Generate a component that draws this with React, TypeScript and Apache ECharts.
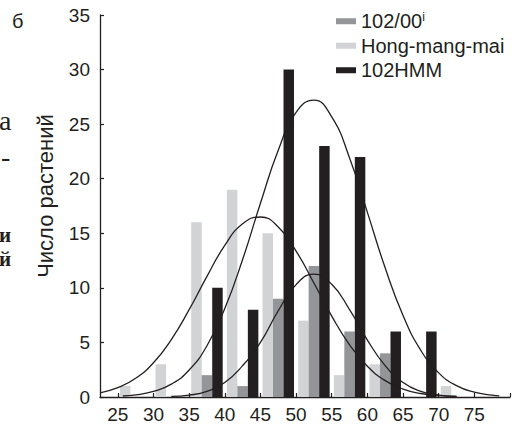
import React, { useEffect, useRef } from 'react';
import * as echarts from 'echarts';

// Class (bin) centres, bins 25–30, 30–35, … 70–75
const binCenters = [27.5, 32.5, 37.5, 42.5, 47.5, 52.5, 57.5, 62.5, 67.5, 72.5];
const hongMangMai = [1, 3, 16, 19, 15, 7, 2, 3, 0, 1];
const line10200 = [0, 0, 2, 1, 9, 12, 6, 4, 0, 0];
const line102HMM = [0, 0, 10, 8, 30, 23, 22, 6, 6, 0];

// Fitted curves
const hongCurveX = [22.5, 25, 27.5, 30, 32.5, 35, 37.5, 40, 42.5, 45, 47.5, 50, 52.5, 55, 57.5, 60, 62.5, 65, 67.5, 70, 72.5];
const hongCurveY = [0.38, 0.85, 1.71, 3.14, 5.26, 8.0, 11.05, 13.89, 15.87, 16.49, 15.58, 13.37, 10.44, 7.41, 4.78, 2.81, 1.5, 0.73, 0.32, 0.13, 0.05];
const c10200CurveX = [32.5, 35, 37.5, 40, 42.5, 45, 47.5, 50, 52.5, 55, 57.5, 60, 62.5, 65, 67.5, 70, 72.5];
const c10200CurveY = [0.05, 0.17, 0.52, 1.33, 2.87, 5.0, 7.9, 10.3, 11.25, 10.33, 8.0, 5.22, 2.87, 1.33, 0.52, 0.17, 0.05];
const hmmCurveX = [25.7, 27.5, 30, 32.5, 35, 37.5, 40, 42.5, 45, 47.5, 50, 52.5, 55, 57.5, 60, 62.5, 65, 67.5, 70, 72.5, 75, 77.5, 78.5];
const hmmCurveY = [0.09, 0.2, 0.51, 1.18, 2.47, 4.7, 8.1, 12.6, 17.75, 22.61, 26.07, 27.2, 25.66, 21.9, 16.92, 11.82, 7.47, 4.27, 2.21, 1.04, 0.44, 0.17, 0.11];

const xTickValues = [25, 30, 35, 40, 45, 50, 55, 60, 65, 70, 75, 80];
const xLabelValues = [25, 30, 35, 40, 45, 50, 55, 60, 65, 70, 75];

const INK = '#231f20';
const LIGHT = '#d1d3d4';
const MID = '#939598';
const FONT = 'Liberation Sans, Arial, Helvetica, sans-serif';
const SERIF = 'Liberation Serif, Times New Roman, serif';

const pair = (xs: number[], ys: number[]) => xs.map((x, i) => [x, ys[i]]);

export default function App() {
  const ref = useRef<HTMLDivElement>(null);
  useEffect(() => {
    const chart = echarts.init(ref.current!, null, { renderer: 'svg' });
    const lineBase = {
      type: 'line' as const,
      smooth: true,
      showSymbol: false,
      symbol: 'none',
      lineStyle: { color: INK, width: 1.3 },
      z: 5,
      silent: true,
    };
    const frag = (text: string, left: number, top: number, size: number, family: string, weight: string) => ({
      type: 'text',
      left,
      top,
      style: { text, fontSize: size, fontFamily: family, fontWeight: weight, fill: INK },
    });
    chart.setOption({
      animation: false,
      backgroundColor: '#ffffff',
      textStyle: { fontFamily: FONT, color: INK },
      grid: { left: 100, right: 9, top: 15, bottom: 26, containLabel: false },
      legend: {
        orient: 'vertical',
        left: 336,
        top: 9,
        padding: 0,
        itemGap: 0,
        itemWidth: 20,
        itemHeight: 6,
        icon: 'rect',
        data: ['102/00i', 'Hong-mang-mai', '102HMM'],
        formatter: (name: string) => (name === '102/00i' ? '102/00{sup|i}' : name),
        textStyle: {
          fontSize: 20,
          lineHeight: 24.5,
          color: INK,
          fontFamily: FONT,
          rich: {
            sup: { fontSize: 12, lineHeight: 12, verticalAlign: 'top', color: INK, fontFamily: FONT, padding: [2, 0, 0, 0] },
          },
        },
      },
      xAxis: {
        type: 'value',
        min: 22.5,
        max: 80,
        axisLine: { show: true, lineStyle: { color: INK, width: 1.3 } },
        axisTick: { show: true, inside: true, length: 4, customValues: xTickValues, lineStyle: { color: INK, width: 1.2 } },
        axisLabel: { customValues: xLabelValues, fontSize: 19, color: INK, margin: 8, fontFamily: FONT },
        splitLine: { show: false },
      },
      yAxis: {
        type: 'value',
        min: 0,
        max: 35,
        interval: 5,
        name: 'Число растений',
        nameLocation: 'middle',
        nameRotate: 90,
        nameGap: 44,
        nameTextStyle: { fontSize: 22, color: INK, fontFamily: FONT, padding: [0, 0, 0, 20] },
        axisLine: { show: true, lineStyle: { color: INK, width: 1.3 } },
        axisTick: { show: true, inside: true, length: 4, lineStyle: { color: INK, width: 1.2 } },
        axisLabel: { fontSize: 19, color: INK, margin: 10, fontFamily: FONT },
        splitLine: { show: false },
      },
      series: [
        {
          name: 'Hong-mang-mai',
          type: 'bar',
          data: pair(binCenters, hongMangMai),
          barWidth: 10.5,
          barGap: '0%',
          itemStyle: { color: LIGHT },
        },
        {
          name: '102/00i',
          type: 'bar',
          data: pair(binCenters, line10200),
          barWidth: 10.5,
          barGap: '0%',
          itemStyle: { color: MID },
        },
        {
          name: '102HMM',
          type: 'bar',
          data: pair(binCenters, line102HMM),
          barWidth: 10.5,
          barGap: '0%',
          itemStyle: { color: INK },
        },
        { ...lineBase, name: 'curve-hong', data: pair(hongCurveX, hongCurveY) },
        { ...lineBase, name: 'curve-10200', data: pair(c10200CurveX, c10200CurveY) },
        { ...lineBase, name: 'curve-hmm', data: pair(hmmCurveX, hmmCurveY) },
      ],
      graphic: [
        frag('б', 12, 11, 20, FONT, 'normal'),
        frag('а', -1, 106, 28, SERIF, 'normal'),
        frag('-', 1, 142, 28, SERIF, 'normal'),
        frag('и', -1, 224, 21, SERIF, 'bold'),
        frag('й', -1, 248, 21, SERIF, 'bold'),
      ],
    });
    return () => chart.dispose();
  }, []);
  return (
    <div
      ref={ref}
      style={{ width: 519, height: 424, position: 'absolute', left: 0, top: 0, background: '#fff' }}
    />
  );
}
